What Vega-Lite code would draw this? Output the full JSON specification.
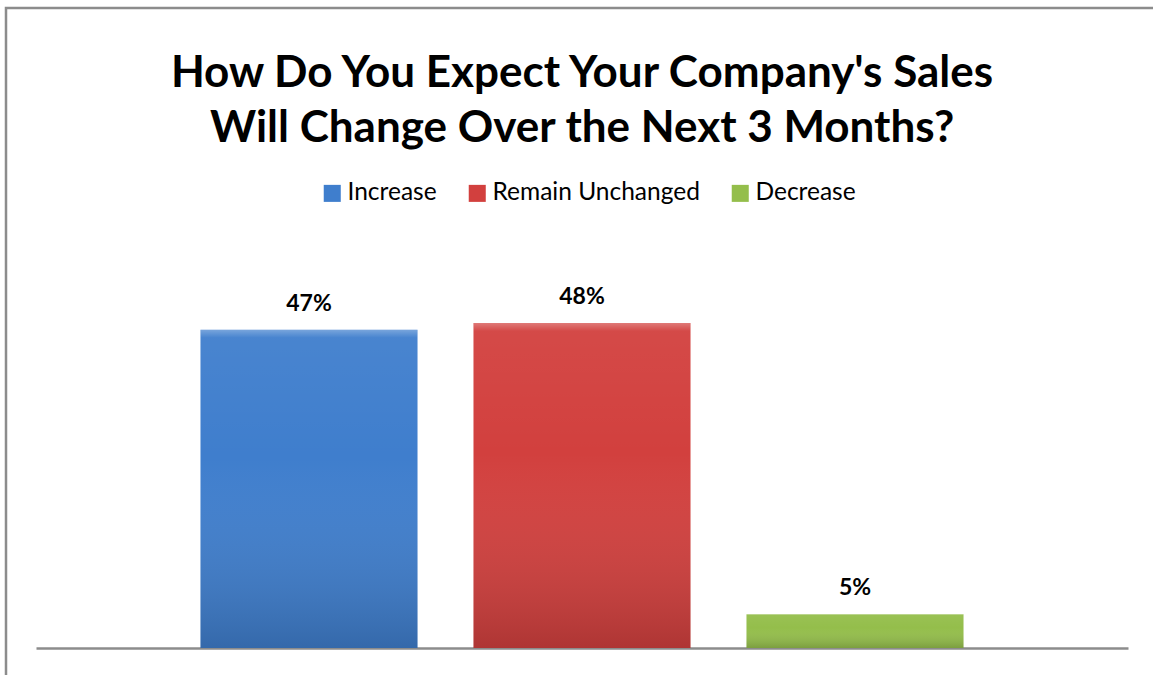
{
  "$schema": "https://vega.github.io/schema/vega-lite/v6.json",
  "autosize": "none",
  "padding": {"left": 6, "top": 8, "right": 0, "bottom": 0},
  "width": 1160,
  "height": 680,
  "background": "white",
  "config": {
    "view": {"stroke": "#8c8c8c", "strokeWidth": 2.5},
    "font": "Lato"
  },
  "title": {
    "text": ["How Do You Expect Your Company's Sales", "Will Change Over the Next 3 Months?"],
    "font": "Lato",
    "fontSize": 44,
    "fontWeight": "bold",
    "color": "#000000",
    "lineHeight": 55,
    "anchor": "middle",
    "frame": "group",
    "baseline": "top",
    "dx": -4,
    "offset": -143
  },
  "data": {
    "values": [
      {"category": "Increase", "value": 0.47, "label": "47%"},
      {"category": "Remain Unchanged", "value": 0.48, "label": "48%"},
      {"category": "Decrease", "value": 0.05, "label": "5%"}
    ]
  },
  "encoding": {
    "x": {
      "field": "category",
      "type": "nominal",
      "sort": null,
      "scale": {"range": [30, 1122], "paddingInner": 0.205, "paddingOuter": 0.6025},
      "axis": {
        "title": null,
        "labels": false,
        "ticks": false,
        "domainColor": "#8c8c8c",
        "domainWidth": 2.5,
        "offset": -40,
        "grid": false
      }
    },
    "y": {
      "field": "value",
      "type": "quantitative",
      "scale": {"domain": [0, 0.48], "range": [640, 315], "nice": false, "zero": true},
      "axis": null
    }
  },
  "layer": [
    {
      "mark": {"type": "bar"},
      "encoding": {
        "color": {
          "field": "category",
          "type": "nominal",
          "sort": null,
          "scale": {
            "domain": ["Increase", "Remain Unchanged", "Decrease"],
            "range": ["#3f7ecd", "#d2403e", "#94be4b"]
          },
          "legend": {
            "orient": "none",
            "direction": "horizontal",
            "legendX": 314,
            "legendY": 173,
            "title": null,
            "symbolType": "square",
            "symbolSize": 290,
            "symbolStrokeWidth": 0,
            "symbolOpacity": 1,
            "labelFont": "Lato",
            "labelFontSize": 24.5,
            "labelColor": "#000000",
            "labelOffset": 3,
            "labelLimit": 400,
            "columnPadding": 28
          }
        }
      }
    },
    {
      "mark": {
        "type": "bar",
        "fill": {
          "gradient": "linear",
          "x1": 0, "y1": 0, "x2": 0, "y2": 1,
          "stops": [
            {"offset": 0, "color": "rgba(255,255,255,0.3)"},
            {"offset": 0.025, "color": "rgba(255,255,255,0.05)"},
            {"offset": 0.4, "color": "rgba(255,255,255,0.0)"},
            {"offset": 1, "color": "rgba(0,0,0,0.17)"}
          ]
        }
      }
    },
    {
      "mark": {"type": "text", "baseline": "bottom", "dy": -14, "fontSize": 23, "fontWeight": "bold", "font": "Lato", "color": "#000000"},
      "encoding": {"text": {"field": "label"}}
    }
  ]
}
